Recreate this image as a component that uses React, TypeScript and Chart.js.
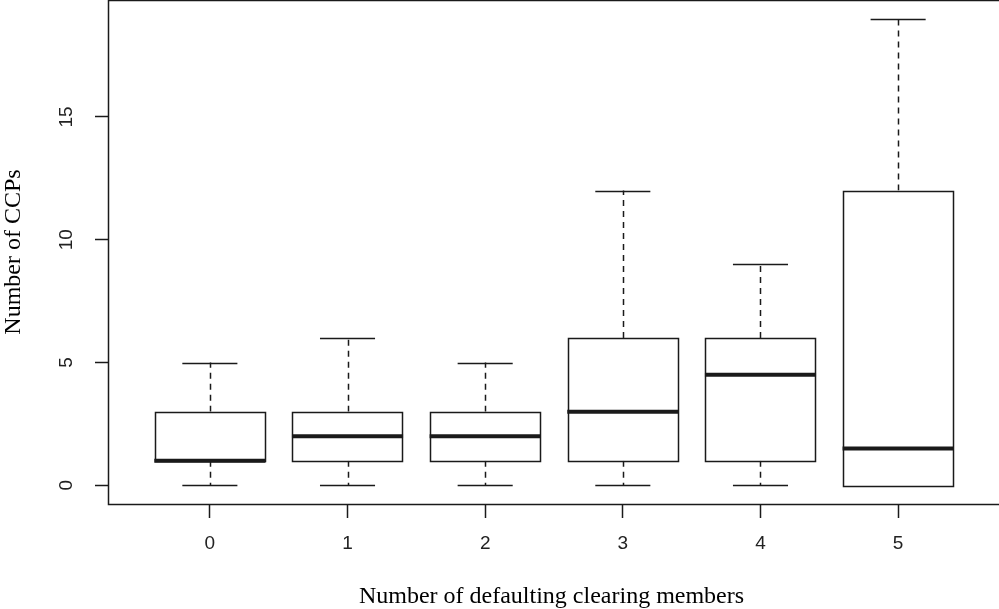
import React, { useEffect, useRef } from "react";
import { Chart, registerables } from "chart.js";

Chart.register(...registerables);

const groups = ["0", "1", "2", "3", "4", "5"];
const whiskerLow = [0, 0, 0, 0, 0, 0];
const q1 = [1, 1, 1, 1, 1, 0];
const medians = [1, 2, 2, 3, 4.5, 1.5];
const q3 = [3, 3, 3, 6, 6, 12];
const whiskerHigh = [5, 6, 5, 12, 9, 19];
const yTicks = [0, 5, 10, 15];
const xTitle = "Number of defaulting clearing members";
const yTitle = "Number of CCPs";

const INK = "#1a1a1a";

const boxPlugin = {
  id: "rbox",
  afterDraw(chart: any) {
    const { ctx, chartArea, scales } = chart;
    const xs = scales.x;
    const ys = scales.y;
    const unit = xs.getPixelForValue(2) - xs.getPixelForValue(1);
    const half = (unit * 0.8) / 2;
    const cap = half / 2;
    const snap = (v: number) => Math.round(v) + 0.5;
    ctx.save();
    for (let i = 0; i < groups.length; i++) {
      const cx = xs.getPixelForValue(i + 1);
      const yLo = ys.getPixelForValue(whiskerLow[i]);
      const yQ1 = ys.getPixelForValue(q1[i]);
      const yMed = ys.getPixelForValue(medians[i]);
      const yQ3 = ys.getPixelForValue(q3[i]);
      const yHi = ys.getPixelForValue(whiskerHigh[i]);
      ctx.strokeStyle = INK;
      ctx.lineWidth = 1.5;
      ctx.setLineDash([6, 5]);
      ctx.beginPath();
      ctx.moveTo(snap(cx), yQ3);
      ctx.lineTo(snap(cx), yHi);
      if (yLo - yQ1 > 0.5) {
        ctx.moveTo(snap(cx), yQ1);
        ctx.lineTo(snap(cx), yLo);
      }
      ctx.stroke();
      ctx.setLineDash([]);
      ctx.beginPath();
      ctx.moveTo(cx - cap, snap(yHi));
      ctx.lineTo(cx + cap, snap(yHi));
      if (yLo - yQ1 > 0.5) {
        ctx.moveTo(cx - cap, snap(yLo));
        ctx.lineTo(cx + cap, snap(yLo));
      }
      ctx.stroke();
      ctx.fillStyle = "#ffffff";
      ctx.fillRect(cx - half, yQ3, half * 2, yQ1 - yQ3);
      ctx.strokeRect(snap(cx - half), snap(yQ3), Math.round(half * 2), Math.round(yQ1 - yQ3));
      ctx.lineWidth = 4;
      ctx.beginPath();
      ctx.moveTo(cx - half - 0.5, yMed);
      ctx.lineTo(cx + half + 0.5, yMed);
      ctx.stroke();
    }
    ctx.lineWidth = 1.5;
    ctx.strokeStyle = INK;
    ctx.strokeRect(
      snap(chartArea.left),
      chartArea.top + 0.5,
      chartArea.right - chartArea.left,
      Math.round(chartArea.bottom) - chartArea.top
    );
    ctx.fillStyle = "#222";
    ctx.font = "19px 'Liberation Sans', Arial, sans-serif";
    ctx.textAlign = "center";
    ctx.textBaseline = "middle";
    for (const t of yTicks) {
      const py = ys.getPixelForValue(t);
      ctx.save();
      ctx.translate(67, py);
      ctx.rotate(-Math.PI / 2);
      ctx.fillText(String(t), 0, 0);
      ctx.restore();
    }
    ctx.fillStyle = "#000";
    ctx.font = "24px 'Liberation Serif', 'Times New Roman', serif";
    ctx.textAlign = "center";
    ctx.textBaseline = "alphabetic";
    ctx.fillText(xTitle, (chartArea.left + Math.min(chartArea.right, 999)) / 2 - 2, 603);
    ctx.save();
    ctx.translate(20, (chartArea.top + chartArea.bottom) / 2);
    ctx.rotate(-Math.PI / 2);
    ctx.fillText(yTitle, 0, 0);
    ctx.restore();
    ctx.restore();
  },
};

export default function App() {
  const ref = useRef<HTMLCanvasElement | null>(null);
  useEffect(() => {
    document.body.style.margin = "0";
    if (!ref.current) return;
    const chart = new Chart(ref.current, {
      type: "scatter",
      data: {
        datasets: [
          {
            data: medians.map((m, i) => ({ x: i + 1, y: m })),
            pointRadius: 0,
            showLine: false,
          },
        ],
      },
      options: {
        animation: false,
        responsive: false,
        events: [],
        layout: { padding: { top: 0, right: 2, left: 0, bottom: 0 } },
        plugins: { legend: { display: false }, tooltip: { enabled: false } },
        scales: {
          x: {
            type: "linear",
            min: 0.26,
            max: 6.74,
            afterBuildTicks: (s: any) => {
              s.ticks = groups.map((_, i) => ({ value: i + 1 }));
            },
            afterFit: (s: any) => {
              s.height = 105;
            },
            ticks: {
              callback: (v: any) => groups[Math.round(v) - 1] ?? "",
              font: { size: 19, family: "'Liberation Sans', Arial, sans-serif" },
              color: "#222",
              padding: 14,
              maxRotation: 0,
              minRotation: 0,
            },
            grid: {
              drawOnChartArea: false,
              drawTicks: true,
              tickLength: 14,
              tickWidth: 1.5,
              tickColor: INK,
            },
            border: { display: false },
          },
          y: {
            type: "linear",
            min: -0.76,
            max: 19.76,
            afterBuildTicks: (s: any) => {
              s.ticks = yTicks.map((v) => ({ value: v }));
            },
            afterFit: (s: any) => {
              s.width = 108;
            },
            ticks: { display: false },
            grid: {
              drawOnChartArea: false,
              drawTicks: true,
              tickLength: 13,
              tickWidth: 1.5,
              tickColor: INK,
            },
            border: { display: false },
          },
        },
      },
      plugins: [boxPlugin],
    });
    return () => chart.destroy();
  }, []);
  return (
    <div style={{ position: "absolute", left: 0, top: 0, width: 999, height: 609, overflow: "hidden", background: "#fff" }}>
      <canvas ref={ref} width={1002} height={609} style={{ display: "block" }} />
    </div>
  );
}
